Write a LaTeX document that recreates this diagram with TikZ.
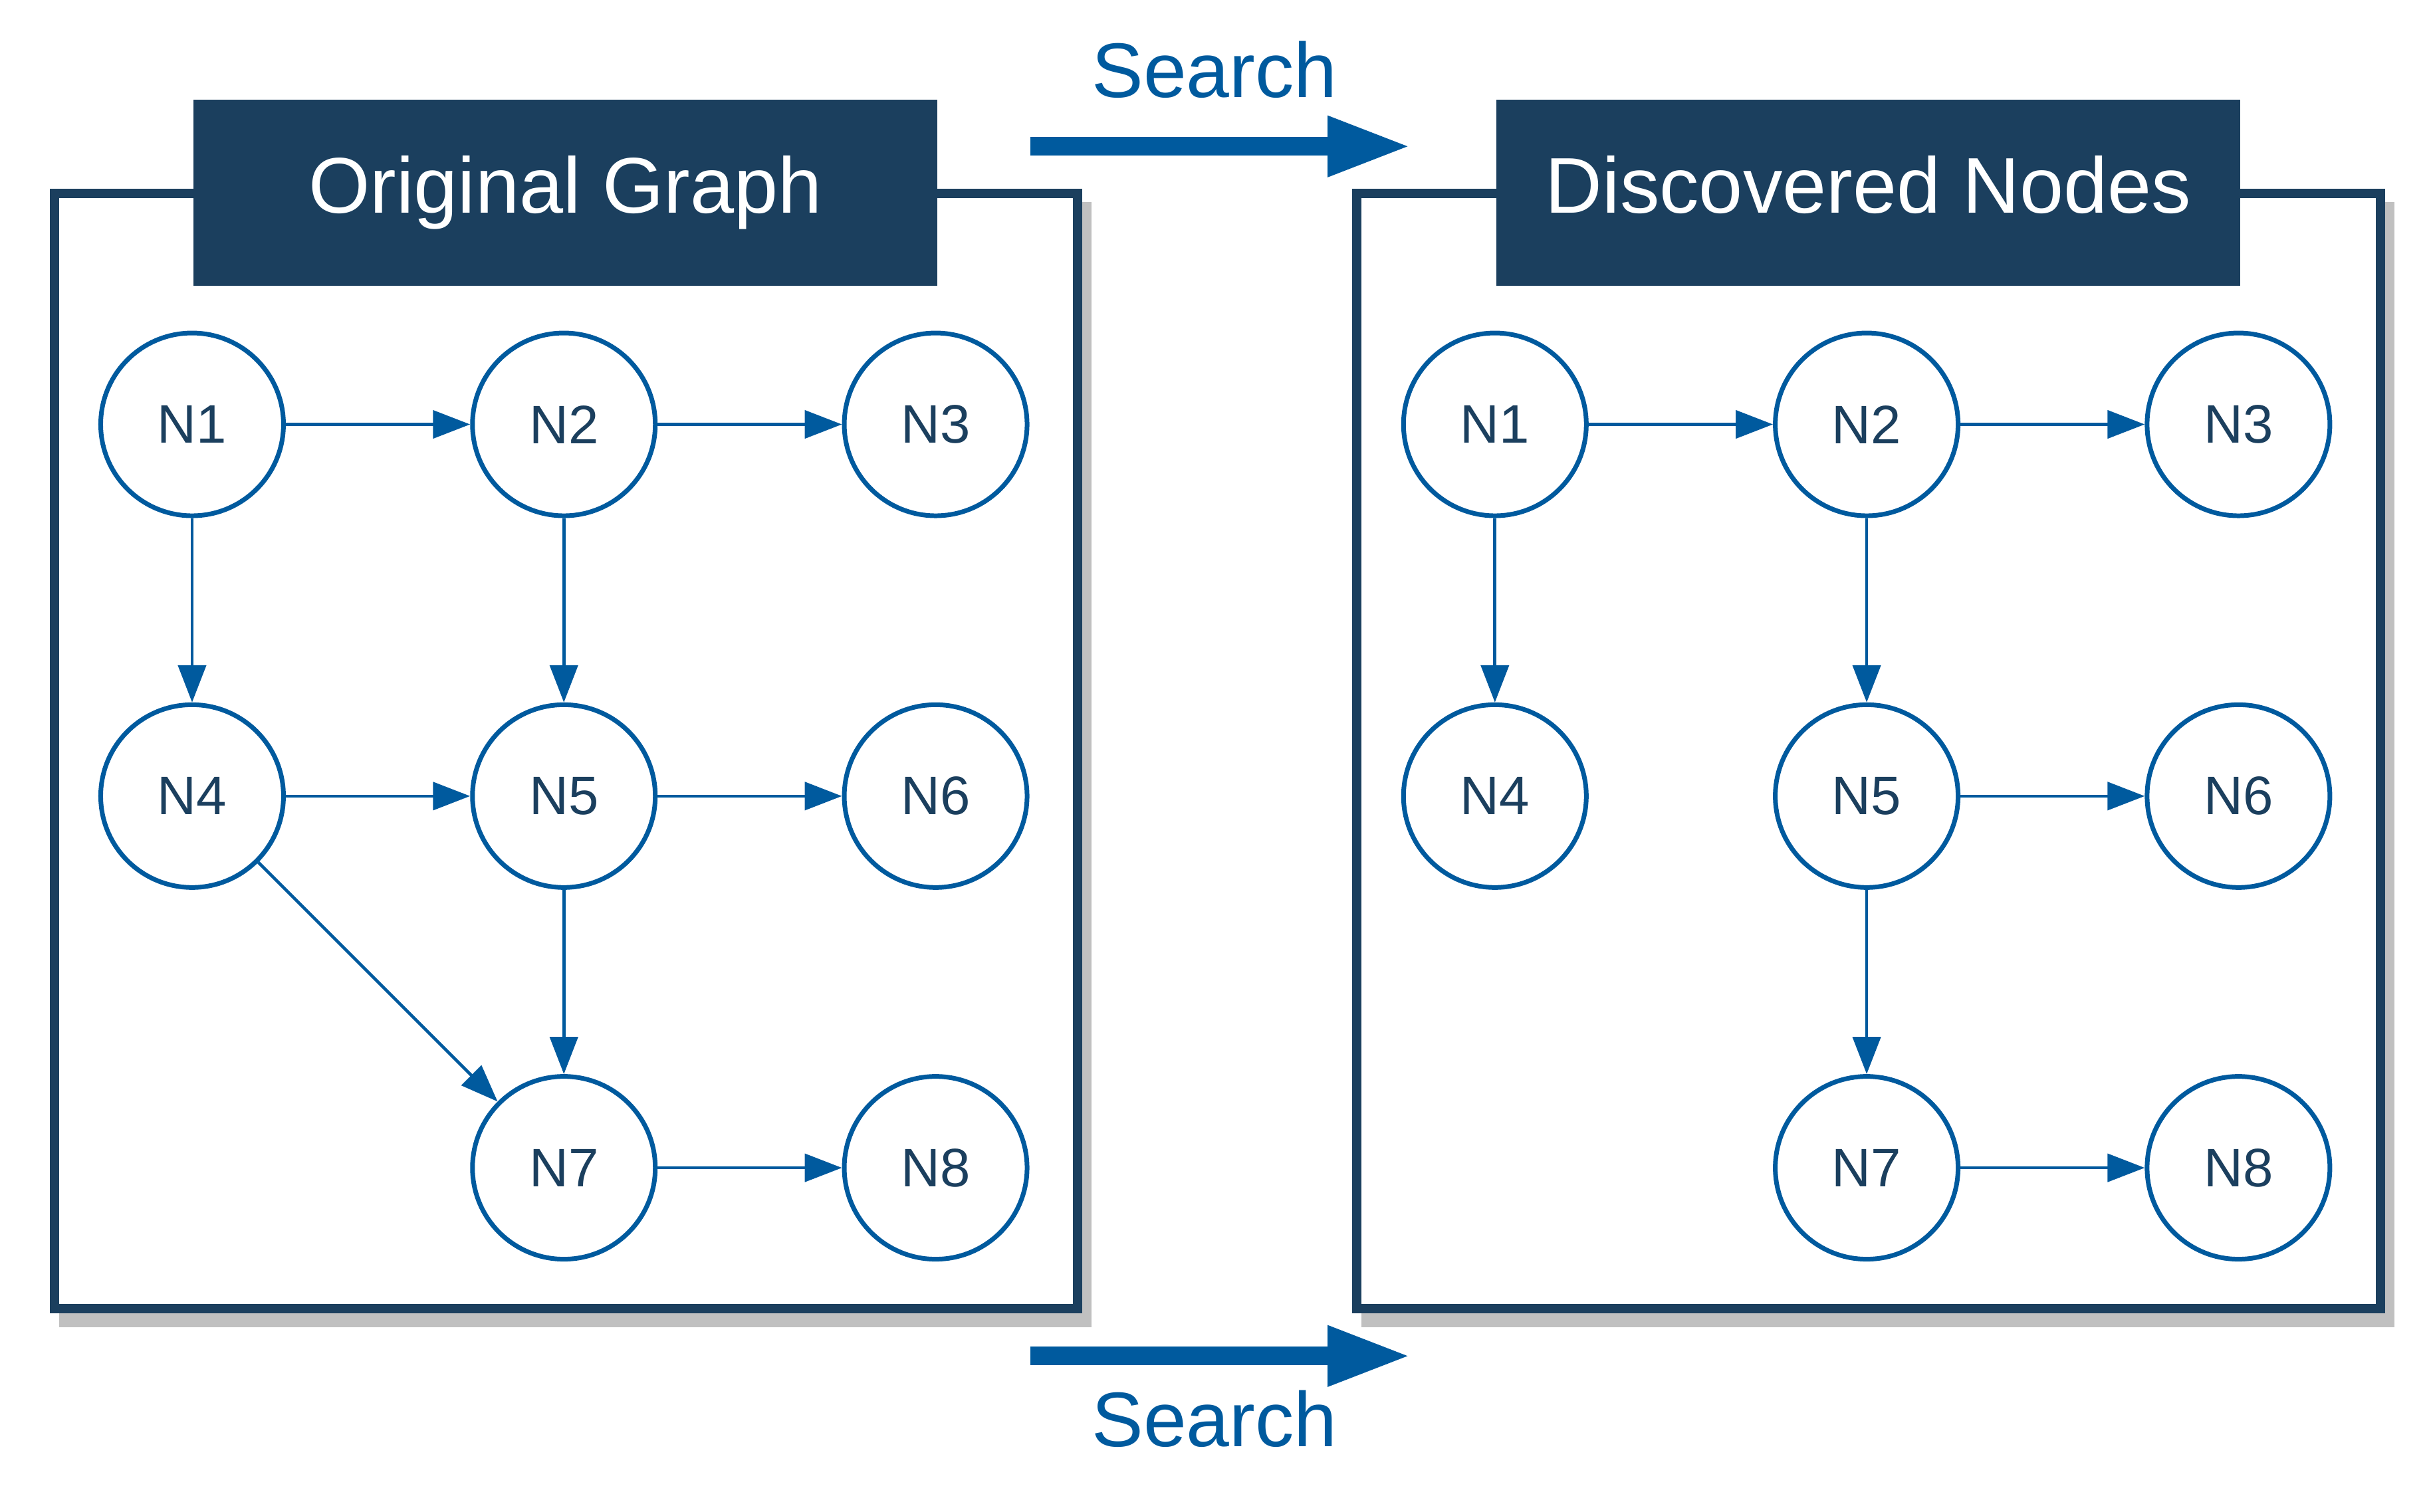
\documentclass[tikz,border=0pt]{standalone}
\usepackage{fontspec}
\setmainfont{Liberation Sans}
\usetikzlibrary{arrows.meta}
\definecolor{navy}{RGB}{27,63,94}
\definecolor{sblue}{RGB}{0,90,158}
\definecolor{shadowgray}{RGB}{192,192,192}
\tikzset{
vtx/.style={circle,draw=sblue,line width=1.5pt,fill=white,minimum size=59pt,inner sep=0pt,text=navy,font=\fontsize{17.5}{20}\selectfont},
edge/.style={draw=sblue,line width=1pt,-{Triangle[length=12pt,width=9pt]}},
hdr/.style={fill=navy,text=white,minimum width=240pt,minimum height=60pt,inner sep=0pt,text height=18pt,text depth=5pt,font=\fontsize{25.5}{30}\selectfont},
big/.style={draw=sblue,line width=6pt,-{Triangle[length=27pt,width=18pt]}},
lbl/.style={text=sblue,inner sep=0pt,font=\fontsize{25}{30}\selectfont}
}
\begin{document}
\begin{tikzpicture}[x=0.5pt,y=0.5pt,yscale=-1,xscale=1]
\useasboundingbox (0,0) rectangle (1568,976);
\fill [shadowgray] (38,130.5) rectangle (704.5,857) ;
\fill [shadowgray] (879,130.5) rectangle (1545.5,857) ;
\draw [navy,fill=white,line width=3pt] (35,125) rectangle (695.5,845) ;
\draw [navy,fill=white,line width=3pt] (876,125) rectangle (1536.5,845) ;
\draw (365,124.5) node [hdr] (hl) {Original Graph};
\draw (1206,124.5) node [hdr] (hr) {Discovered Nodes};

\draw (124,274) node [vtx] (a1) {N1};
\draw (364,274) node [vtx] (a2) {N2};
\draw (604,274) node [vtx] (a3) {N3};
\draw (124,514) node [vtx] (a4) {N4};
\draw (364,514) node [vtx] (a5) {N5};
\draw (604,514) node [vtx] (a6) {N6};
\draw (364,754) node [vtx] (a7) {N7};
\draw (604,754) node [vtx] (a8) {N8};

\draw (965,274) node [vtx] (b1) {N1};
\draw (1205,274) node [vtx] (b2) {N2};
\draw (1445,274) node [vtx] (b3) {N3};
\draw (965,514) node [vtx] (b4) {N4};
\draw (1205,514) node [vtx] (b5) {N5};
\draw (1445,514) node [vtx] (b6) {N6};
\draw (1205,754) node [vtx] (b7) {N7};
\draw (1445,754) node [vtx] (b8) {N8};

\draw [edge] (a1) -- (a2) ;
\draw [edge] (a2) -- (a3) ;
\draw [edge] (a1) -- (a4) ;
\draw [edge] (a2) -- (a5) ;
\draw [edge] (a4) -- (a5) ;
\draw [edge] (a5) -- (a6) ;
\draw [edge] (a4) -- (a7) ;
\draw [edge] (a5) -- (a7) ;
\draw [edge] (a7) -- (a8) ;

\draw [edge] (b1) -- (b2) ;
\draw [edge] (b2) -- (b3) ;
\draw [edge] (b1) -- (b4) ;
\draw [edge] (b2) -- (b5) ;
\draw [edge] (b5) -- (b6) ;
\draw [edge] (b5) -- (b7) ;
\draw [edge] (b7) -- (b8) ;

\coordinate (s1) at (665,94.5) ;
\coordinate (t1) at (911,94.5) ;
\coordinate (s2) at (665,875.5) ;
\coordinate (t2) at (911,875.5) ;
\draw [big] (s1) -- (t1) ;
\draw [big] (s2) -- (t2) ;
\draw (784,63) node [lbl,anchor=base] (q1) {Search};
\draw (784,934) node [lbl,anchor=base] (q2) {Search};

\end{tikzpicture}
\end{document}
